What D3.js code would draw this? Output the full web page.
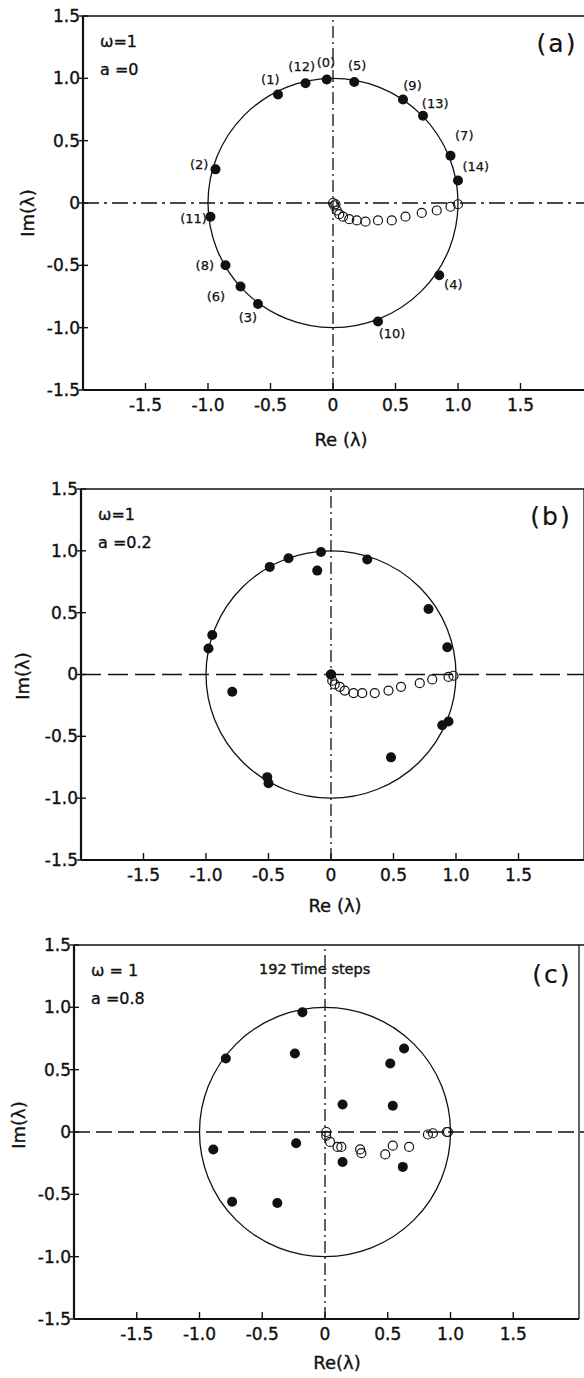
<!DOCTYPE html>
<html lang="en">
<head>
<meta charset="UTF-8">
<title>Eigenvalues λ, ω = 1</title>
<script src="https://d3js.org/d3.v7.min.js"></script>
<style>
  body { margin: 0; background: #fff; }
  svg { display: block; font-family: "DejaVu Sans", "Liberation Sans", sans-serif; }
  text { fill: #111; stroke: #111; stroke-width: 0.35px; }
  .tick-label { font-size: 17px; }
  .axis-title { font-size: 18px; }
  .param { font-size: 16px; }
  .panel-tag { font-size: 25px; letter-spacing: 2px; stroke-width: 0.2px; }
  .pt-label { font-size: 13px; stroke-width: 0.25px; }
</style>
</head>
<body>
<div id="chart"></div>
<script>
// ---- data ----
const xTicks = [-1.5, -1.0, -0.5, 0, 0.5, 1.0, 1.5];
const yTicks = [-1.5, -1.0, -0.5, 0, 0.5, 1.0, 1.5];

// (a) a = 0 : filled points with their step labels
const filledA_re = [-0.22, -0.05, 0.17, 0.56, 0.72, 0.94, 1.00, -0.44, -0.94, -0.98, -0.86, -0.74, -0.60, 0.85, 0.36];
const filledA_im = [0.96, 0.99, 0.97, 0.83, 0.70, 0.38, 0.18, 0.87, 0.27, -0.11, -0.50, -0.67, -0.81, -0.58, -0.95];
const labelsA = ["(12)", "(0)", "(5)", "(9)", "(13)", "(7)", "(14)", "(1)", "(2)", "(11)", "(8)", "(6)", "(3)", "(4)", "(10)"];
const hollowA_re = [0.00, 0.02, 0.01, 0.03, 0.05, 0.08, 0.13, 0.19, 0.26, 0.36, 0.47, 0.58, 0.71, 0.83, 0.94, 1.00];
const hollowA_im = [0.00, -0.01, -0.02, -0.06, -0.09, -0.11, -0.13, -0.14, -0.15, -0.14, -0.14, -0.11, -0.08, -0.06, -0.03, -0.01];

// (b) a = 0.2
const filledB_re = [-0.49, -0.34, -0.95, -0.98, -0.08, -0.11, 0.29, 0.78, 0.93, 0.00, -0.79, -0.51, -0.50, 0.89, 0.94, 0.48];
const filledB_im = [0.87, 0.94, 0.32, 0.21, 0.99, 0.84, 0.93, 0.53, 0.22, 0.00, -0.14, -0.83, -0.88, -0.41, -0.38, -0.67];
const hollowB_re = [0.00, 0.01, 0.03, 0.07, 0.11, 0.18, 0.25, 0.35, 0.46, 0.56, 0.71, 0.81, 0.94, 0.98];
const hollowB_im = [0.00, -0.05, -0.08, -0.10, -0.13, -0.15, -0.15, -0.15, -0.13, -0.10, -0.07, -0.04, -0.02, -0.01];

// (c) a = 0.8, 192 time steps
const filledC_re = [-0.79, -0.24, -0.18, 0.63, 0.52, 0.14, 0.54, -0.89, -0.74, -0.38, -0.23, 0.14, 0.62];
const filledC_im = [0.59, 0.63, 0.96, 0.67, 0.55, 0.22, 0.21, -0.14, -0.56, -0.57, -0.09, -0.24, -0.28];
const hollowC_re = [0.01, 0.01, 0.04, 0.10, 0.13, 0.28, 0.29, 0.48, 0.54, 0.67, 0.82, 0.86, 0.97, 0.98];
const hollowC_im = [0.00, -0.03, -0.08, -0.12, -0.12, -0.14, -0.17, -0.18, -0.11, -0.12, -0.02, -0.01, 0.00, 0.00];

const zip = (re, im) => re.map((r, i) => ({re: r, im: im[i]}));

// label nudges (px) for a few step labels in panel (a)
const labelNudge = {"(7)": [-2, -14], "(14)": [1, -11], "(6)": [-12, -1], "(10)": [8, -4], "(8)": [-6, -8]};

const W = 584, H = 1378;
const svg = d3.select("#chart").append("svg")
    .attr("width", W).attr("height", H);

const panels = [
  {tag: "(a)", omega: "ω=1", a: "a =0", left: 83, right: 583, top: 16, bottom: 390,
   filled: zip(filledA_re, filledA_im), hollow: zip(hollowA_re, hollowA_im), labels: labelsA,
   reTitle: "Re (λ)", reX: 341, reY: 446, imX: 27, imY: 213, tagX: 557, tagY: 52,
   hDash: "16,5,3,5", vDash: "12,4,2,4"},
  {tag: "(b)", omega: "ω=1", a: "a =0.2", left: 81, right: 581, top: 489, bottom: 860,
   filled: zip(filledB_re, filledB_im), hollow: zip(hollowB_re, hollowB_im),
   reTitle: "Re (λ)", reX: 335, reY: 912, imX: 22, imY: 676, tagX: 551, tagY: 525,
   hDash: "20,7", vDash: "12,4,2,4"},
  {tag: "(c)", omega: "ω =  1", a: "a =0.8", left: 74, right: 576, top: 945, bottom: 1319,
   filled: zip(filledC_re, filledC_im), hollow: zip(hollowC_re, hollowC_im),
   reTitle: "Re(λ)", reX: 337, reY: 1369, imX: 18, imY: 1125, tagX: 552, tagY: 983,
   hDash: "16,6", vDash: "12,4,2,4", note: true}
];

panels.forEach(p => {
  const x = d3.scaleLinear().domain([-2, 2]).range([p.left, p.right]);
  const y = d3.scaleLinear().domain([-1.5, 1.5]).range([p.bottom, p.top]);
  const g = svg.append("g");

  // frame
  g.append("line").attr("x1", p.left).attr("x2", W).attr("y1", p.top).attr("y2", p.top)
      .attr("stroke", "#111").attr("stroke-width", 1.6);
  g.append("line").attr("x1", p.right + 3).attr("x2", p.right + 3).attr("y1", p.top).attr("y2", p.bottom)
      .attr("stroke", "#111").attr("stroke-width", 1.3);
  g.append("line").attr("x1", p.left).attr("x2", p.right + 3).attr("y1", p.bottom).attr("y2", p.bottom)
      .attr("stroke", "#111").attr("stroke-width", 2);
  g.append("line").attr("x1", p.left).attr("x2", p.left).attr("y1", p.top).attr("y2", p.bottom)
      .attr("stroke", "#111").attr("stroke-width", 2.2);

  // ticks
  g.selectAll(".xt").data(xTicks).join("line")
      .attr("x1", d => x(d)).attr("x2", d => x(d))
      .attr("y1", p.bottom).attr("y2", p.bottom - 7)
      .attr("stroke", "#111").attr("stroke-width", 1.4);
  g.selectAll(".yt").data(yTicks).join("line")
      .attr("x1", p.left - 4).attr("x2", p.left + 5)
      .attr("y1", d => y(d)).attr("y2", d => y(d))
      .attr("stroke", "#111").attr("stroke-width", 1.4);

  const fmt = d => d === 0 ? "0" : (d < 0 ? "-" : "") + Math.abs(d).toFixed(1);
  g.selectAll(".xl").data(xTicks).join("text")
      .attr("class", "tick-label")
      .attr("x", d => x(d)).attr("y", p.bottom + 21)
      .attr("text-anchor", "middle")
      .text(fmt);
  g.selectAll(".yl").data(yTicks).join("text")
      .attr("class", "tick-label")
      .attr("x", p.left - 3).attr("y", d => y(d))
      .attr("dy", "0.35em")
      .attr("text-anchor", "end")
      .text(fmt);

  // axis titles
  g.append("text").attr("class", "axis-title")
      .attr("x", p.reX).attr("y", p.reY)
      .attr("text-anchor", "middle").text(p.reTitle);
  g.append("text").attr("class", "axis-title")
      .attr("transform", `translate(${p.imX},${p.imY}) rotate(-90)`)
      .attr("text-anchor", "middle").attr("dominant-baseline", "central")
      .text("Im(λ)");

  // reference lines through origin
  g.append("line").attr("x1", p.left).attr("x2", W)
      .attr("y1", y(0)).attr("y2", y(0))
      .attr("stroke", "#111").attr("stroke-width", 1.3)
      .attr("stroke-dasharray", p.hDash);
  g.append("line").attr("x1", x(0)).attr("x2", x(0))
      .attr("y1", p.bottom).attr("y2", p.top)
      .attr("stroke", "#111").attr("stroke-width", 1.3)
      .attr("stroke-dasharray", p.vDash);

  // unit circle
  g.append("ellipse")
      .attr("cx", x(0)).attr("cy", y(0))
      .attr("rx", x(1) - x(0)).attr("ry", y(0) - y(1))
      .attr("fill", "none").attr("stroke", "#111").attr("stroke-width", 1.3);

  // parameters
  g.append("text").attr("class", "param").attr("x", p.left + 17).attr("y", p.top + 31).text(p.omega);
  g.append("text").attr("class", "param").attr("x", p.left + 17).attr("y", p.top + 59).text(p.a);
  g.append("text").attr("class", "panel-tag").attr("x", p.tagX).attr("y", p.tagY)
      .attr("text-anchor", "middle").text(p.tag);
  if (p.note) {
    g.append("text").attr("class", "param").style("font-size", "14.5px")
        .attr("x", 259).attr("y", p.top + 29).text("192  Time steps");
  }

  // hollow eigenvalues
  g.selectAll(".hollow").data(p.hollow).join("circle")
      .attr("cx", d => x(d.re)).attr("cy", d => y(d.im)).attr("r", 4.5)
      .attr("fill", "none").attr("stroke", "#111").attr("stroke-width", 1.2);

  // filled eigenvalues
  g.selectAll(".filled").data(p.filled).join("circle")
      .attr("cx", d => x(d.re)).attr("cy", d => y(d.im)).attr("r", 5)
      .attr("fill", "#111");

  // step labels (panel a)
  if (p.labels) {
    g.selectAll(".pl").data(p.filled).join("text")
        .attr("class", "pl pt-label")
        .attr("text-anchor", "middle").attr("dominant-baseline", "central")
        .each(function(d, i) {
          const lab = p.labels[i];
          const ang = Math.atan2(d.im, d.re);
          const nud = labelNudge[lab] || [0, 0];
          d3.select(this)
            .attr("x", x(d.re) + 17 * Math.cos(ang) + nud[0])
            .attr("y", y(d.im) - 17 * Math.sin(ang) + nud[1])
            .text(lab);
        });
  }
});
</script>
</body>
</html>
